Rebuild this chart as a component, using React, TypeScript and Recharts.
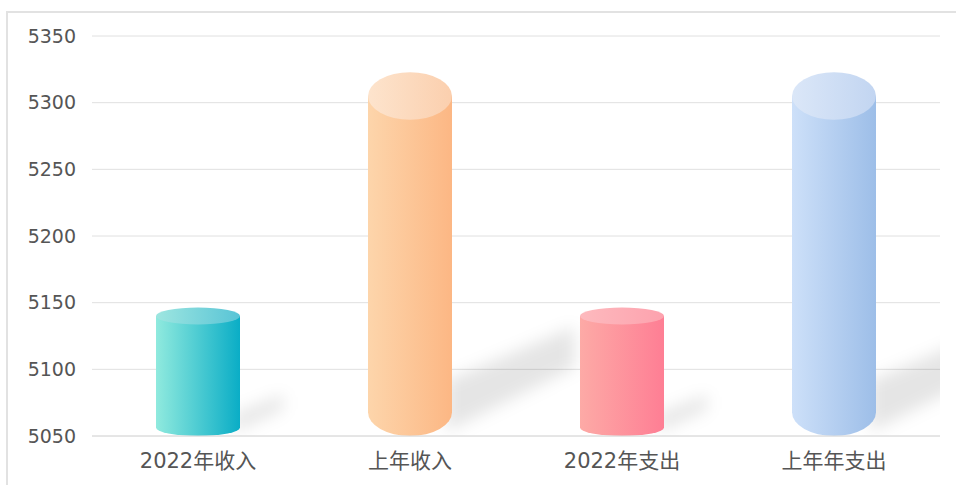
import React from 'react';
import { BarChart, Bar, XAxis, YAxis, CartesianGrid } from 'recharts';

const categories = ['2022年收入', '上年收入', '2022年支出', '上年年支出'];
const values = [5140, 5305, 5140, 5305];
const yTicks = [5050, 5100, 5150, 5200, 5250, 5300, 5350];

// body gradient (left -> right) and top cap gradient per bar
const bodyColors = [
  ['#90eade', '#0aadc6'],
  ['#fdd5ab', '#fcb784'],
  ['#fdaaa6', '#fe7e94'],
  ['#cde0f9', '#9dbee8'],
];
const topColors = [
  ['#9ee6e0', '#58c4d6'],
  ['#fde4cd', '#fbcfae'],
  ['#fdbabe', '#fda2ae'],
  ['#dbe7f8', '#c2d5f1'],
];

const data = categories.map((name, i) => ({ name, value: values[i] }));

const font = '"DejaVu Sans", "Noto Sans CJK SC", sans-serif';

const Cylinder = (props: any) => {
  const { x, y, width, height, index } = props;
  if (height == null || height <= 0) return null;
  const base = y + height;
  const cx = x + width / 2;
  const rx = width / 2;
  const ry = Math.max(5, height * 0.07);
  const xr = x + width;
  const dx = height * 0.36;
  const dy = height * 0.22;
  const t = Math.max(14, height * 0.15);
  const shadow = `${xr - 6},${base - 4} ${xr - 6},${base - 4 - t} ${xr + dx},${base - 4 - dy - t * 0.6} ${xr + dx},${base - 4 - dy + t * 0.2}`;
  const body = `M${x},${y} L${x},${base - ry} A${rx},${ry} 0 0 0 ${xr},${base - ry} L${xr},${y} Z`;
  return (
    <g>
      <g clipPath="url(#plotClip)">
        <polygon points={shadow} fill="#000" fillOpacity={0.1} filter="url(#shadowBlur)" />
      </g>
      <path d={body} fill={`url(#body${index})`} />
      <ellipse cx={cx} cy={y} rx={rx} ry={ry} fill={`url(#top${index})`} />
    </g>
  );
};

export default function App() {
  return (
    <div style={{ position: 'absolute', left: 0, top: 0, width: 956, height: 485, background: '#fff' }}>
      <div
        style={{
          position: 'absolute',
          left: 6,
          top: 11,
          right: 0,
          bottom: 0,
          borderTop: '2px solid #e2e2e2',
          borderLeft: '2px solid #e2e2e2',
        }}
      />
      <div style={{ position: 'absolute', left: 0, top: 0 }}>
        <BarChart
          width={956}
          height={485}
          data={data}
          barSize={84}
          margin={{ top: 36, right: 16, bottom: 19, left: 6 }}
        >
          <defs>
            {bodyColors.map((c, i) => (
              <linearGradient key={`b${i}`} id={`body${i}`} x1="0" y1="0" x2="1" y2="0">
                <stop offset="0%" stopColor={c[0]} />
                <stop offset="100%" stopColor={c[1]} />
              </linearGradient>
            ))}
            {topColors.map((c, i) => (
              <linearGradient key={`t${i}`} id={`top${i}`} x1="0" y1="0" x2="1" y2="0">
                <stop offset="0%" stopColor={c[0]} />
                <stop offset="100%" stopColor={c[1]} />
              </linearGradient>
            ))}
            <filter id="shadowBlur" x="-50%" y="-50%" width="200%" height="200%">
              <feGaussianBlur stdDeviation="8" />
            </filter>
            <clipPath id="plotClip">
              <rect x={92} y={0} width={848} height={436} />
            </clipPath>
          </defs>
          <CartesianGrid vertical={false} stroke="#e0e0e0" />
          <XAxis
            dataKey="name"
            height={30}
            axisLine={{ stroke: '#dcdcdc' }}
            tickLine={false}
            tickMargin={11}
            tick={{ fill: '#555', fontSize: 21, fontFamily: font }}
          />
          <YAxis
            width={86}
            domain={[5050, 5350]}
            ticks={yTicks}
            axisLine={false}
            tickLine={false}
            tickMargin={10}
            tick={{ fill: '#555', fontSize: 19, fontFamily: font }}
          />
          <Bar dataKey="value" shape={<Cylinder />} isAnimationActive={false} />
        </BarChart>
      </div>
    </div>
  );
}
